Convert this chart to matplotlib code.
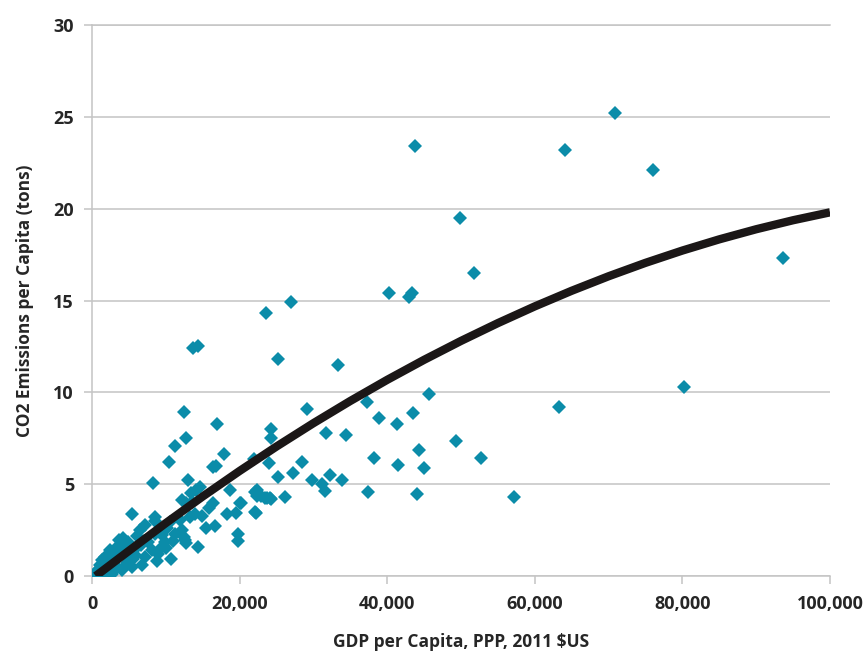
import matplotlib
matplotlib.use("Agg")
import matplotlib.pyplot as plt
from matplotlib.ticker import FuncFormatter

# GDP per capita (thousands of 2011 $US, PPP) and CO2 per capita (tons)
gdp_k = [
    # high emitters / rich countries
    43.8, 64.1, 70.8, 76.0, 49.9, 51.8, 40.2, 43.0, 43.3, 93.6, 80.2,
    63.3, 49.3, 52.7, 57.2,
    33.4, 45.6, 29.1, 37.3, 38.9, 41.3, 43.5, 31.7, 34.4, 44.3, 28.5,
    38.2, 41.4, 45.0, 29.8, 32.2, 31.2, 31.6, 33.9, 37.4, 44.1,
    23.6, 27.0,
    # middle income
    13.7, 14.4, 25.2, 12.4, 16.9, 12.7, 11.3, 17.9, 10.5, 16.4, 16.8,
    24.2, 24.3, 21.9, 24.0, 27.3, 25.2, 13.05, 14.6, 18.7, 20.05, 22.1,
    22.4, 23.4, 24.1, 26.2, 22.1, 18.25, 8.3, 8.5,
    14.1, 22.3, 22.9, 23.7, 24.2, 12.15, 12.8, 16.4, 15.8, 20.2, 19.5,
    22.2, 13.95, 14.9, 16.7, 15.4, 19.8, 19.8, 12.4, 12.7, 14.4, 11.9,
    # low income cluster
    5.4, 8.5, 7.2, 6.5, 10.7, 3.6, 3.35, 4.25, 2.4, 1.8, 1.1, 0.4,
    9.45, 9.9, 11.2, 12.15, 12.6, 13.4, 8.1, 5.8, 7.2, 4.7, 5.4, 3.35,
    4.0, 2.2, 2.7, 1.8, 9.45, 8.5, 6.05, 4.9, 6.7, 7.6, 10.1, 10.6,
    13.5, 13.3, 1.3, 2.9, 2.0, 0.85, 9.0, 10.0, 3.0, 3.9, 5.0, 6.0,
    7.0, 1.5, 2.5, 3.2, 4.4, 5.6, 6.8, 8.8, 11.0, 0.7, 1.0, 2.1,
]
co2_t = [
    23.4, 23.2, 25.2, 22.1, 19.5, 16.5, 15.4, 15.2, 15.4, 17.3, 10.3,
    9.2, 7.35, 6.4, 4.3,
    11.5, 9.9, 9.1, 9.5, 8.6, 8.3, 8.85, 7.8, 7.65, 6.85, 6.2,
    6.45, 6.05, 5.9, 5.2, 5.5, 5.0, 4.65, 5.2, 4.55, 4.45,
    14.3, 14.9,
    12.4, 12.5, 11.8, 8.95, 8.25, 7.5, 7.1, 6.65, 6.2, 5.95, 6.0,
    8.0, 7.5, 6.35, 6.15, 5.6, 5.4, 5.25, 4.85, 4.7, 4.0, 4.6,
    4.35, 4.25, 4.25, 4.3, 3.5, 3.4, 5.05, 3.2,
    4.7, 4.7, 4.35, 4.25, 4.2, 4.15, 3.95, 3.95, 3.7, 4.0, 3.45,
    3.45, 3.4, 3.25, 2.7, 2.6, 2.3, 1.9, 2.15, 1.8, 1.6, 3.05,
    3.4, 3.0, 2.8, 2.5, 0.95, 1.95, 1.6, 2.05, 1.4, 1.05, 0.6, 0.15,
    2.25, 1.85, 2.3, 2.5, 1.95, 4.5, 1.4, 1.15, 1.05, 0.7, 0.5, 0.5,
    0.33, 0.33, 0.1, 0.0, 1.6, 2.3, 2.2, 1.85, 1.7, 1.85, 2.6, 2.95,
    4.05, 3.2, 0.87, 1.15, 0.7, 0.33, 1.2, 1.5, 0.9, 1.3, 1.2, 1.5,
    1.9, 0.4, 0.8, 1.0, 1.6, 0.9, 0.6, 0.8, 1.9, 0.1, 0.3, 0.25,
]

# polynomial trend line as drawn on the chart
trend_x_k = [0.5, 5, 10, 15, 20, 25, 30, 35, 40, 45, 50, 55,
             60, 65, 70, 75, 80, 85, 90, 95, 100]
trend_y = [0.0, 1.37, 2.88, 4.33, 5.72, 7.05, 8.32, 9.53, 10.68, 11.77, 12.8, 13.77,
           14.68, 15.53, 16.32, 17.05, 17.72, 18.33, 18.88, 19.37, 19.8]

gdp = [v * 1000 for v in gdp_k]
trend_x = [v * 1000 for v in trend_x_k]

teal = '#0b8ca9'
grid_gray = '#c4c4c4'
text_col = '#262626'

plt.rcParams['font.family'] = ['Open Sans', 'DejaVu Sans']

fig = plt.figure(figsize=(8.67, 6.56), dpi=100)
ax = fig.add_axes([92 / 867, 1 - 576 / 656, 738 / 867, 551 / 656])

ax.plot(gdp, co2_t, linestyle='none', marker='D', markersize=7.4,
        color=teal, markeredgewidth=0, zorder=3)
ax.plot(trend_x, trend_y, color='#1b1717', linewidth=6.0,
        solid_capstyle='butt', zorder=4)

ax.set_xlim(0, 100000)
ax.set_ylim(0, 30)
ax.set_xticks(range(0, 100001, 20000))
ax.set_yticks(range(0, 31, 5))
ax.xaxis.set_major_formatter(FuncFormatter(lambda v, p: '{:,.0f}'.format(v)))

ax.yaxis.grid(True, color=grid_gray, linewidth=1.1)
ax.set_axisbelow(True)
for side in ['top', 'bottom', 'left']:
    ax.spines[side].set_color(grid_gray)
    ax.spines[side].set_linewidth(1.1)
ax.spines['right'].set_visible(False)

ax.tick_params(axis='both', direction='out', length=6, width=1.1,
               color=grid_gray, labelcolor=text_col, labelsize=13)
ax.tick_params(axis='x', pad=8)
ax.tick_params(axis='y', pad=7)
for lab in ax.get_xticklabels() + ax.get_yticklabels():
    lab.set_fontweight('bold')

ax.set_xlabel('GDP per Capita, PPP, 2011 $US', fontsize=12.5,
              fontweight='bold', color=text_col, labelpad=14)
ax.set_ylabel('CO2 Emissions per Capita (tons)', fontsize=12.5,
              fontweight='bold', color=text_col, labelpad=14)

fig.savefig('out.png', dpi=100)
